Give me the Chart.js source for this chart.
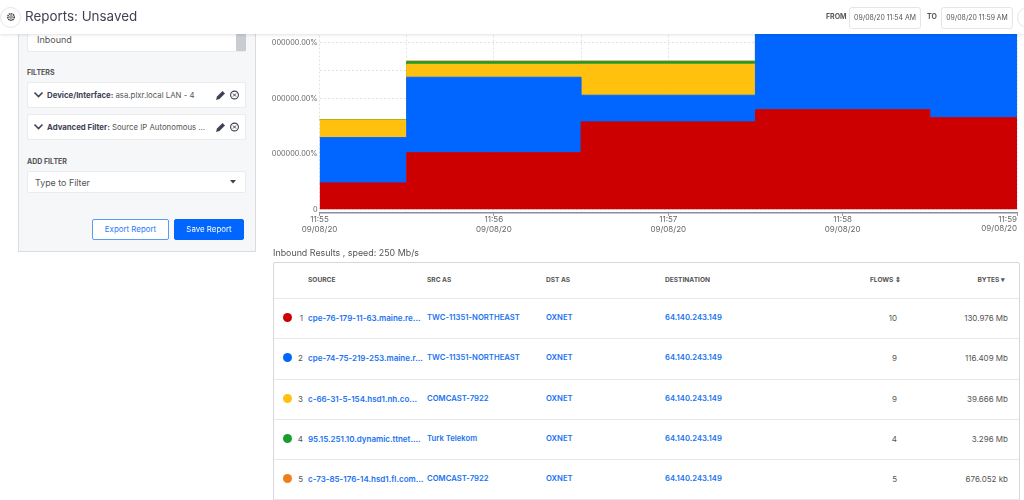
<!DOCTYPE html>
<html>
<head>
<meta charset="utf-8">
<script src="https://cdn.jsdelivr.net/npm/chart.js@4/dist/chart.umd.min.js"></script>
<style>
  html, body { margin:0; padding:0; width:1024px; height:500px; overflow:hidden; background:#fff; font-family:Inter,"Noto Sans",sans-serif; color:#3f4254; }
  .abs { position:absolute; white-space:nowrap; }
  #header { position:absolute; left:0; top:0; width:1024px; height:34px; background:#fff; box-shadow:0 1px 3px rgba(0,0,0,.12); z-index:5; overflow:hidden; }
  .circle { position:absolute; border:1px solid #e6e6ea; border-radius:50%; background:#fff; box-sizing:border-box; }
  .datebox { position:absolute; top:7px; height:22px; border:1px solid #e4e5ea; border-radius:3px; box-sizing:border-box; font-size:6.9px; line-height:20px; text-align:center; color:#555; white-space:nowrap; }
  .hlabel { position:absolute; top:12px; font-size:7px; font-weight:700; color:#555; }
  #panel { position:absolute; left:18px; top:20px; width:238px; height:232px; background:#f6f7f9; border:1px solid #dcdce0; box-sizing:border-box; }
  .box { position:absolute; left:27px; width:219px; background:#fff; border:1px solid #eaebee; box-sizing:border-box; border-radius:2px; }
  .flabel { position:absolute; left:27px; font-size:7px; font-weight:700; color:#555; }
  .ftext { position:absolute; left:47px; font-size:7.8px; color:#555; white-space:nowrap; }
  .ftext b { color:#3f4254; }
  .btn { position:absolute; top:219px; height:21px; border-radius:2px; box-sizing:border-box; font-size:7.9px; line-height:19px; text-align:center; }
  #chartWrap { position:absolute; left:262px; top:-29px; width:762px; height:280px; }
  #tableBox { position:absolute; left:273px; top:262px; width:747px; height:260px; border:1px solid #d8d8dc; border-radius:2px; box-sizing:border-box; }
  .rowline { position:absolute; left:274px; width:745px; height:1px; background:#e8e8ec; }
  .th { position:absolute; top:276px; font-size:6.6px; font-weight:700; color:#555; white-space:nowrap; }
  .td { position:absolute; font-size:8px; white-space:nowrap; color:#555; }
  .lnk { color:#1a73f0; font-weight:600; }
  .narrow { font-size:7.7px; }
  .dot { position:absolute; left:282.5px; width:9px; height:9px; border-radius:50%; }
</style>
</head>
<body>
<div id="chartWrap"><canvas id="flowChart" width="762" height="280" style="width:762px;height:280px"></canvas></div>

<div id="panel"></div>
<div class="box" style="top:24px;height:28px"></div>
<div class="abs" style="left:37px;top:34px;font-size:9px;color:#555">Inbound</div>
<div class="abs" style="left:236px;top:34px;width:10px;height:17px;background:#c9ccd1;border-radius:1px"></div>
<div class="flabel" style="top:68px">FILTERS</div>
<div class="box" style="top:82px;height:26px"></div>
<div class="ftext" style="top:90px"><b>Device/Interface:</b> asa.plxr.local LAN - 4</div>
<div class="box" style="top:114px;height:26px"></div>
<div class="ftext" style="top:122px"><b>Advanced Filter:</b> Source IP Autonomous ...</div>
<svg class="abs" style="left:33px;top:91px" width="11" height="8"><path d="M1.5 1.5L5.5 5.5L9.5 1.5" fill="none" stroke="#3f4254" stroke-width="1.6"/></svg>
<svg class="abs" style="left:33px;top:123px" width="11" height="8"><path d="M1.5 1.5L5.5 5.5L9.5 1.5" fill="none" stroke="#3f4254" stroke-width="1.6"/></svg>
<svg class="abs" style="left:215px;top:89px" width="32" height="12"><path d="M1 11L2 7.5L7.5 2L10 4.5L4.5 10Z" fill="#3f4254"/><circle cx="19.5" cy="6" r="3.9" fill="none" stroke="#3f4254" stroke-width="1.1"/><path d="M18 4.500L21 7.500M21 4.500L18 7.500" stroke="#3f4254"/></svg>
<svg class="abs" style="left:215px;top:121px" width="32" height="12"><path d="M1 11L2 7.5L7.5 2L10 4.5L4.5 10Z" fill="#3f4254"/><circle cx="19.5" cy="6" r="3.9" fill="none" stroke="#3f4254" stroke-width="1.1"/><path d="M18 4.500L21 7.500M21 4.500L18 7.500" stroke="#3f4254"/></svg>
<div class="flabel" style="top:157px">ADD FILTER</div>
<div class="box" style="top:171px;height:22px"></div>
<div class="abs" style="left:35px;top:177px;font-size:8.9px;color:#555">Type to Filter</div>
<svg class="abs" style="left:230px;top:180px" width="8" height="5"><path d="M0 0H6L3 3.500Z" fill="#3f4254"/></svg>
<div class="btn" style="left:92px;width:77px;background:#fff;border:1px solid #5a9bf8;color:#2a7bf5">Export Report</div>
<div class="btn" style="left:174px;width:70px;background:#0066ff;border:1px solid #0066ff;color:#fff">Save Report</div>

<div id="header">
  <div class="circle" style="left:0;top:7px;width:21px;height:21px"></div>
  <svg class="abs" style="left:6px;top:12px" width="10" height="10"><circle cx="5" cy="5" r="3.200" fill="none" stroke="#444" stroke-width="1.600" stroke-dasharray="1.500 .6"/><circle cx="5" cy="5" r="1.300" fill="none" stroke="#444" stroke-width=".8"/></svg>
  <div class="abs" style="left:25px;top:8px;font-size:13.400px;color:#3f4254">Reports: Unsaved</div>
  <div class="hlabel" style="left:826px">FROM</div>
  <div class="datebox" style="left:849px;width:72px">09/08/20 11:54 AM</div>
  <div class="hlabel" style="left:927px">TO</div>
  <div class="datebox" style="left:941px;width:72px">09/08/20 11:59 AM</div>
  <div class="circle" style="left:1017px;top:7px;width:21px;height:21px"></div>
</div>

<div class="abs" style="left:273px;top:247px;font-size:8.9px;color:#555">Inbound Results , speed: 250 Mb/s</div>
<div id="tableBox"></div>
<div id="tableRows"></div>

<script>
// chart values, one tick step on the y axis = 100
const minutes = [0, 1, 2, 3, 4];
const minuteLabels = ['11:55', '11:56', '11:57', '11:58', '11:59'];
const dateLabel = '09/08/20';
const gridSteps = [0, 0.5, 1, 1.5, 2, 2.5, 3, 3.5, 4];
const yTicks = [0, 50, 100, 150, 200, 250, 300, 350, 400];
const yLabelled = [100, 200, 300, 400];
const yTickText = '000000.00%';

const redValues = [47.7, 102.3, 157.7, 179.8, 165.4];
const blueValues = [81.7, 135.9, 48.1, 170, 185];
const yellowValues = [31.9, 23.4, 55.9, 20, 15];
const greenValues = [0.3, 4.7, 4.7, 3, 3];
const orangeValues = [0.4, 1.2, 1.2, 1, 1];

// table values
const sources = ['cpe-76-179-11-63.maine.re...', 'cpe-74-75-219-253.maine.r...', 'c-66-31-5-154.hsd1.nh.co...', '95.15.251.10.dynamic.ttnet....', 'c-73-85-176-14.hsd1.fl.com...'];
const srcAs = ['TWC-11351-NORTHEAST', 'TWC-11351-NORTHEAST', 'COMCAST-7922', 'Turk Telekom', 'COMCAST-7922'];
const flows = [10, 9, 9, 4, 5];
const bytes = ['130.976 Mb', '116.409 Mb', '39.666 Mb', '3.296 Mb', '676.052 kb'];
const seriesColors = ['#cc0000', '#0066ff', '#ffc10e', '#1a9c2f', '#ee7f1a'];

const toPoints = values => values.map((v, i) => ({ x: minutes[i], y: v }));
const makeSet = (values, i) => ({
  data: toPoints(values),
  backgroundColor: seriesColors[i],
  borderColor: seriesColors[i],
  borderWidth: 1,
  pointRadius: 0,
  stepped: 'middle',
  fill: i === 0 ? 'origin' : '-1'
});

// last label sits right aligned against the plot edge, the library centres them all
const lastLabel = {
  id: 'lastLabel',
  afterDraw: chart => {
    const { ctx, scales } = chart;
    const px = scales.x.getPixelForValue(minutes[4]);
    ctx.save();
    ctx.font = '8px Inter';
    ctx.fillStyle = '#666';
    ctx.textAlign = 'right';
    ctx.textBaseline = 'middle';
    ctx.fillText(minuteLabels[4], px, 248.5);
    ctx.fillText(dateLabel, px, 258);
    ctx.restore();
  }
};

new Chart(document.getElementById('flowChart'), {
  type: 'line',
  data: { datasets: [redValues, blueValues, yellowValues, greenValues, orangeValues].map(makeSet) },
  plugins: [lastLabel],
  options: {
    responsive: false,
    animation: false,
    layout: { padding: { top: 16.5, right: 7, left: 0, bottom: 0 } },
    plugins: { legend: { display: false }, tooltip: { enabled: false } },
    scales: {
      x: {
        type: 'linear',
        min: 0,
        max: 4,
        afterBuildTicks: scale => { scale.ticks = gridSteps.map(v => ({ value: v })); },
        afterFit: scale => { scale.height = 38.3; },
        border: { color: '#8b8ba3', width: 1.5, dash: [2, 2] },
        grid: {
          color: '#e2e2e2',
          tickColor: ctx => Number.isInteger(ctx.tick.value) ? '#8b8ba3' : 'rgba(0,0,0,0)',
          tickLength: 3,
          tickBorderDash: []
        },
        ticks: {
          autoSkip: false,
          maxRotation: 0,
          padding: -1,
          color: '#666',
          font: { family: 'Inter', size: 8, lineHeight: 1.25 },
          callback: v => (Number.isInteger(v) && v < minutes[4]) ? [minuteLabels[v], dateLabel] : ''
        }
      },
      y: {
        stacked: true,
        min: -6,
        max: 400,
        afterBuildTicks: scale => { scale.ticks = yTicks.map(v => ({ value: v })); },
        afterFit: scale => { scale.width = 57.5; },
        border: { display: false, dash: [2, 2] },
        grid: { color: '#e2e2e2', drawTicks: false },
        ticks: {
          padding: 2,
          color: '#666',
          font: { family: 'Inter', size: 7.3 },
          callback: v => v === 0 ? '0' : (yLabelled.includes(v) ? yTickText : '')
        }
      }
    }
  }
});

// table
const tableRows = document.getElementById('tableRows');
const addEl = (cls, style, text) => {
  const el = document.createElement('div');
  el.className = cls;
  el.style.cssText = style;
  el.textContent = text || '';
  tableRows.appendChild(el);
};
addEl('th', 'left:308px', 'SOURCE');
addEl('th', 'left:427px', 'SRC AS');
addEl('th', 'left:546px', 'DST AS');
addEl('th', 'left:665px', 'DESTINATION');
addEl('th', 'right:123px', 'FLOWS ⇕');
addEl('th', 'right:19px', 'BYTES ▾');
const rowTops = [298, 338, 379, 419, 459];
sources.forEach((s, i) => {
  const t = rowTops[i] + 15;
  addEl('rowline', 'top:' + rowTops[i] + 'px');
  addEl('dot', 'top:' + t + 'px;background:' + seriesColors[i]);
  addEl('td', 'right:721px;top:' + t + 'px', String(i + 1));
  addEl('td lnk', 'left:308px;top:' + t + 'px', s);
  addEl('td lnk narrow', 'left:427px;top:' + t + 'px', srcAs[i]);
  addEl('td lnk narrow', 'left:546px;top:' + t + 'px', 'OXNET');
  addEl('td lnk narrow', 'left:665px;top:' + t + 'px', '64.140.243.149');
  addEl('td', 'right:127px;top:' + t + 'px', String(flows[i]));
  addEl('td', 'right:16px;top:' + t + 'px', bytes[i]);
});
addEl('rowline', 'top:499px');
</script>
</body>
</html>
